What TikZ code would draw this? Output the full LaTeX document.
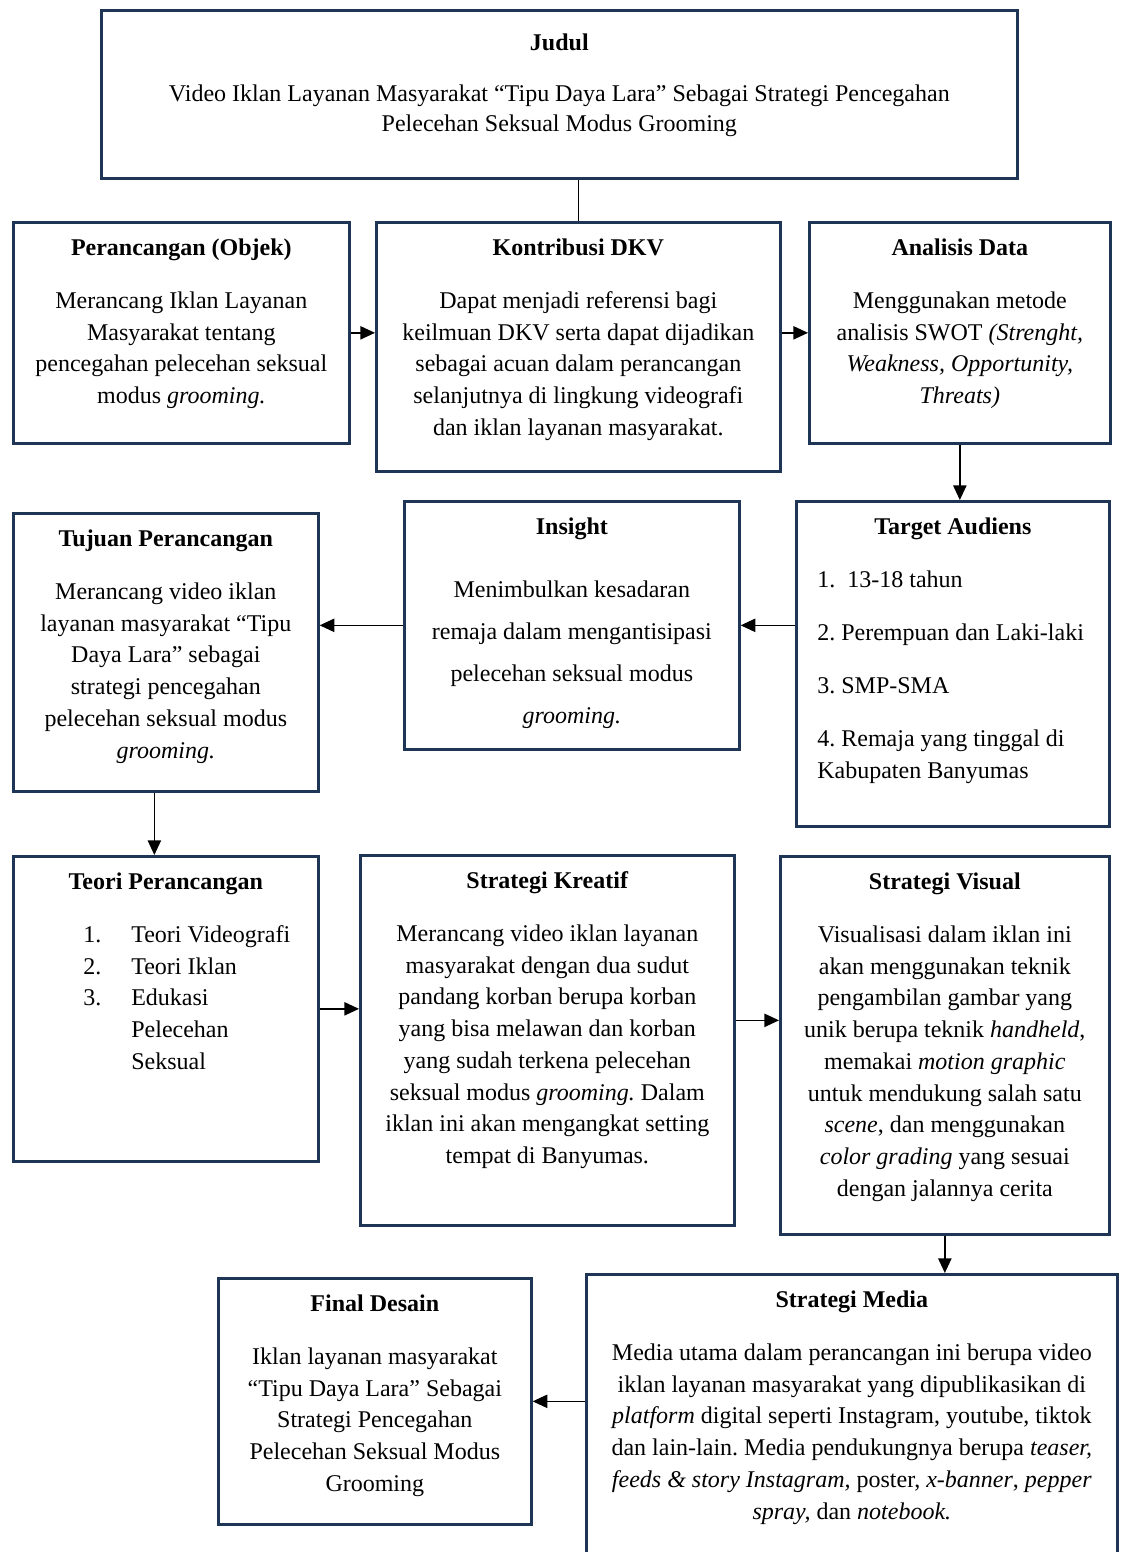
\documentclass[tikz,border=0pt]{standalone}
\usepackage{fontspec}
\setmainfont{Liberation Serif}
\usepackage{xcolor}
\usepackage{tikz}
\usetikzlibrary{arrows.meta,positioning}
\frenchspacing

\definecolor{boxnavy}{HTML}{1F3556}
\newlength\px \setlength\px{0.75pt}
% width, height (px), title, body
\newcommand{\panel}[4]{\parbox[c][#2\px][t]{#1\px}{\centering
  \rule{0pt}{24.75pt}\textbf{#3}\par\vspace{16pt}#4\par}}

\begin{document}
\begin{tikzpicture}[
    x=0.75pt, y=-0.75pt,
    panel/.style={draw=boxnavy, line width=2pt, inner sep=0pt, anchor=north west,
        font=\fontsize{18}{23.8}\selectfont},
    link/.style={draw, line width=1pt},
    arr/.style={link, -{Triangle[length=11pt,width=10pt]}}
]
\useasboundingbox (0,0) rectangle (1122,1552);
\clip (0,0) rectangle (1122,1552);

\node[panel] (judul) at (100,9) {\parbox[c][168\px][t]{916\px}{\centering
    \rule{0pt}{30pt}\textbf{Judul}\par\vspace{15.75pt}
    \fontsize{18}{22.5}\selectfont
    Video Iklan Layanan Masyarakat “Tipu Daya Lara” Sebagai Strategi Pencegahan\\
    Pelecehan Seksual Modus Grooming\par}};

\node[panel] (objek) at (12,221) {\panel{336}{221}{Perancangan (Objek)}{%
    Merancang Iklan Layanan\\ Masyarakat tentang\\ pencegahan pelecehan seksual\\
    modus \textit{grooming.}}};
\node[panel] (kontribusi) at (375,221) {\panel{404}{249}{Kontribusi DKV}{%
    Dapat menjadi referensi bagi\\ keilmuan DKV serta dapat dijadikan\\
    sebagai acuan dalam perancangan\\ selanjutnya di lingkung videografi\\
    dan iklan layanan masyarakat.}};
\node[panel] (analisis) at (808,221) {\panel{301}{221}{Analisis Data}{%
    Menggunakan metode\\ analisis SWOT \textit{(Strenght,}\\
    \textit{Weakness, Opportunity,}\\ \textit{Threats)}}};

\node[panel] (tujuan) at (12,512) {\panel{305}{278}{Tujuan Perancangan}{%
    Merancang video iklan\\ layanan masyarakat “Tipu\\ Daya Lara” sebagai\\
    strategi pencegahan\\ pelecehan seksual modus\\ \textit{grooming.}}};
\node[panel] (insight) at (403,500) {\panel{335}{248}{Insight}{%
    \fontsize{18}{31.5}\selectfont
    Menimbulkan kesadaran\\ remaja dalam mengantisipasi\\ pelecehan seksual modus\\
    \textit{grooming.}}};
\node[panel] (target) at (795,500) {\panel{313}{325}{Target Audiens}{%
    \raggedright\leftskip=15.75pt
    1.\ \ 13-18 tahun\\[16pt] 2. Perempuan dan Laki-laki\\[16pt] 3. SMP-SMA\\[16pt]
    4. Remaja yang tinggal di\\ Kabupaten Banyumas}};

\node[panel] (teori) at (12,855) {\panel{305}{305}{Teori Perancangan}{%
    \raggedright\leftskip=52.5pt
    \makebox[36pt][l]{1.}Teori Videografi\\ \makebox[36pt][l]{2.}Teori Iklan\\
    \makebox[36pt][l]{3.}Edukasi\\ \hspace*{36pt}Pelecehan\\ \hspace*{36pt}Seksual}};
\node[panel] (kreatif) at (359,854) {\panel{374}{370}{Strategi Kreatif}{%
    Merancang video iklan layanan\\ masyarakat dengan dua sudut\\
    pandang korban berupa korban\\ yang bisa melawan dan korban\\
    yang sudah terkena pelecehan\\ seksual modus \textit{grooming.} Dalam\\
    iklan ini akan mengangkat setting\\ tempat di Banyumas.}};
\node[panel] (visual) at (779,855) {\panel{329}{378}{Strategi Visual}{%
    Visualisasi dalam iklan ini\\ akan menggunakan teknik\\ pengambilan gambar yang\\
    unik berupa teknik \textit{handheld},\\ memakai \textit{motion graphic}\\
    untuk mendukung salah satu\\ \textit{scene}, dan menggunakan\\
    \textit{color grading} yang sesuai\\ dengan jalannya cerita}};

\node[panel] (final) at (217,1277) {\panel{313}{246}{Final Desain}{%
    Iklan layanan masyarakat\\ “Tipu Daya Lara” Sebagai\\ Strategi Pencegahan\\
    Pelecehan Seksual Modus\\ Grooming}};
\node[panel] (media) at (585,1273) {\panel{531}{330}{Strategi Media}{%
    Media utama dalam perancangan ini berupa video\\
    iklan layanan masyarakat yang dipublikasikan di\\
    \textit{platform} digital seperti Instagram, youtube, tiktok\\
    dan lain-lain. Media pendukungnya berupa \textit{teaser,}\\
    \textit{feeds \& story Instagram,} poster, \textit{x-banner}, \textit{pepper}\\
    \textit{spray,} dan \textit{notebook.}}};

\draw[link] (judul.south -| kontribusi.north) -- (kontribusi.north);
\draw[arr] (objek.east) -- (objek.east -| kontribusi.west);
\draw[arr] (kontribusi.east |- analisis.west) -- (analisis.west);
\draw[arr] (analisis.south) -- (analisis.south |- target.north);
\draw[arr] (target.west |- insight.east) -- (insight.east);
\draw[arr] (insight.west) -- (insight.west -| tujuan.east);
\coordinate (tt) at ([xshift=-8.6pt]tujuan.south);
\draw[arr] (tt) -- (tt |- teori.north);
\draw[arr] (teori.east) -- (teori.east -| kreatif.west);
\coordinate (kv) at ([yshift=15pt]kreatif.east);
\draw[arr] (kv) -- (kv -| visual.west);
\draw[arr] (visual.south) -- (visual.south |- media.north);
\draw[arr] (media.west |- final.east) -- (final.east);
\end{tikzpicture}
\end{document}
